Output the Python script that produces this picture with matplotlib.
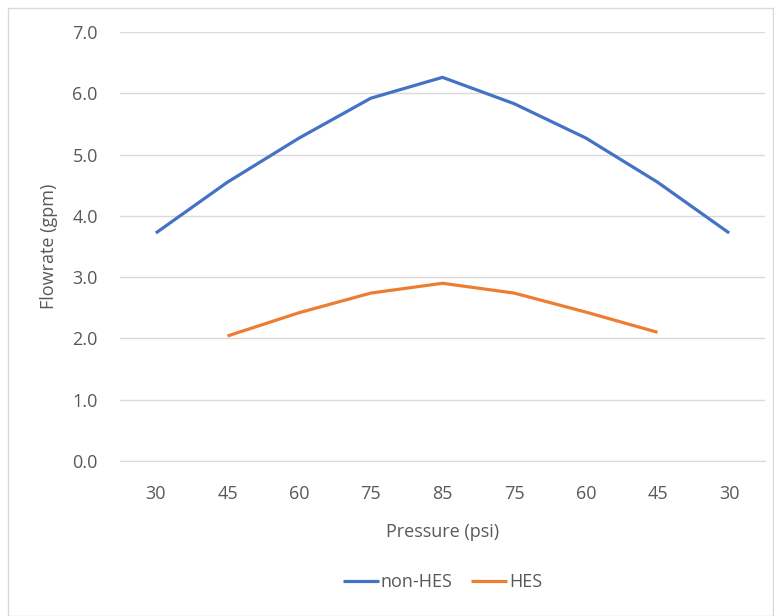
import numpy as np
import matplotlib.pyplot as plt
from matplotlib.patches import Rectangle

# Data
pressure = ['30', '45', '60', '75', '85', '75', '60', '45', '30']
non_hes = [3.72, 4.55, 5.27, 5.92, 6.26, 5.83, 5.27, 4.55, 3.72]
hes = [np.nan, 2.04, 2.42, 2.74, 2.90, 2.74, 2.43, 2.10, np.nan]

plt.rcParams['font.family'] = ['Open Sans', 'DejaVu Sans']
grey = '#595959'
fs = 13

fig = plt.figure(figsize=(7.74, 6.16), dpi=100)
fig.patches.append(Rectangle((8/774, 0), 1 - 8/774 - 1/774, 1 - 8/616,
                             transform=fig.transFigure, fill=False,
                             edgecolor='#D9D9D9', linewidth=1))
ax = fig.add_axes([120/774, 1 - 461/616, 645/774, 429/616])

x = np.arange(len(pressure))
ax.plot(x, non_hes, color='#4472C4', lw=2.3, label='non-HES', solid_capstyle='butt')
ax.plot(x, hes, color='#ED7D31', lw=2.3, label='HES', solid_capstyle='butt')

ax.set_xlim(-0.5, len(pressure) - 0.5)
ax.set_ylim(0, 7)
ax.set_yticks(np.arange(0, 7.1, 1.0))
ax.set_yticklabels([f'{v:.1f}' for v in np.arange(0, 7.1, 1.0)])
ax.set_xticks(x)
ax.set_xticklabels(pressure)

ax.grid(axis='y', color='#D9D9D9', linewidth=1)
ax.set_axisbelow(True)
for s in ['top', 'right', 'left']:
    ax.spines[s].set_visible(False)
ax.spines['bottom'].set_color('#D9D9D9')
ax.tick_params(length=0, colors=grey, labelsize=fs)
ax.tick_params(axis='x', pad=17)
ax.tick_params(axis='y', pad=16)

ax.set_xlabel('Pressure (psi)', color=grey, fontsize=fs, labelpad=15)
ax.set_ylabel('Flowrate (gpm)', color=grey, fontsize=fs, labelpad=10)

leg = ax.legend(loc='center', bbox_to_anchor=(0.5, -0.282), ncol=2, frameon=False,
                fontsize=fs, handlelength=2.0, handletextpad=0.1, columnspacing=1.0)
for t in leg.get_texts():
    t.set_color(grey)

fig.savefig('out.png', dpi=100)
